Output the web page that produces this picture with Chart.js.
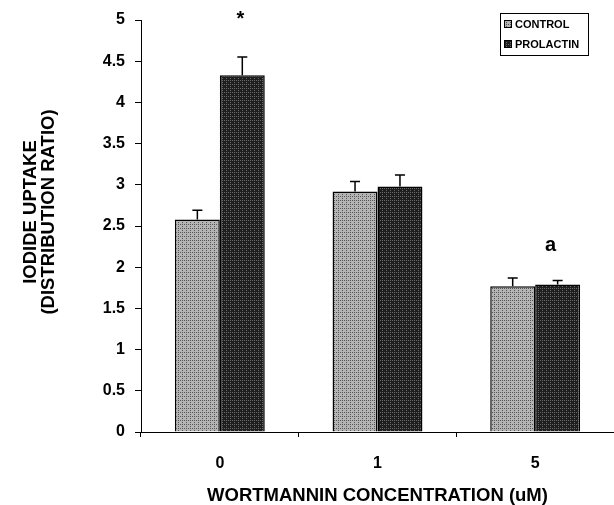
<!DOCTYPE html>
<html>
<head>
<meta charset="utf-8">
<script src="https://cdn.jsdelivr.net/npm/chart.js@4/dist/chart.umd.min.js"></script>
<style>
  html, body { margin: 0; padding: 0; background: #fff; }
  #wrap { width: 614px; height: 505px; position: relative; }
</style>
</head>
<body>
<div id="wrap"><canvas id="chart"></canvas></div>
<script>
const concentrations = ['0', '1', '5'];
const controlValues = [2.58, 2.92, 1.77];
const controlErrors = [0.11, 0.12, 0.10];
const prolactinValues = [4.33, 2.98, 1.79];
const prolactinErrors = [0.22, 0.14, 0.05];
const yTicks = [0, 0.5, 1, 1.5, 2, 2.5, 3, 3.5, 4, 4.5, 5];
const yTitleLines = ['IODIDE UPTAKE', '(DISTRIBUTION RATIO)'];

// significance marks: [dataset, category, value where the mark sits]
const marks = [
  { dataset: 1, index: 0, value: 5.05, text: '*', dx: -2, size: 20 },
  { dataset: 1, index: 2, value: 2.26, text: 'a', dx: -7, size: 20 },
];

const FONT = '"Liberation Sans", Arial, sans-serif';

function makePattern(base, dot) {
  const c = document.createElement('canvas');
  c.width = 4;
  c.height = 4;
  const g = c.getContext('2d');
  g.fillStyle = base;
  g.fillRect(0, 0, 4, 4);
  g.fillStyle = dot;
  g.fillRect(0, 0, 1, 1);
  g.fillRect(2, 2, 1, 1);
  g.fillRect(2, 0, 1, 1);
  return g.createPattern(c, 'repeat');
}

const ctx = document.getElementById('chart').getContext('2d');
const controlFill = makePattern('#b4b4b4', '#555');
const prolactinFill = makePattern('#1e1e1e', '#6a6a6a');

// upward-only error bars with a small cap
const errorBars = {
  id: 'errorBars',
  afterDatasetsDraw(chart) {
    const g = chart.ctx;
    const yScale = chart.scales.y;
    g.save();
    g.strokeStyle = '#000';
    g.lineWidth = 1.5;
    chart.data.datasets.forEach((ds, di) => {
      const meta = chart.getDatasetMeta(di);
      meta.data.forEach((bar, i) => {
        const top = yScale.getPixelForValue(ds.data[i] + ds.errors[i]);
        g.beginPath();
        g.moveTo(bar.x, bar.y);
        g.lineTo(bar.x, top);
        g.moveTo(bar.x - 5, top);
        g.lineTo(bar.x + 5, top);
        g.stroke();
      });
    });
    g.restore();
  },
};

const markLabels = {
  id: 'markLabels',
  afterDatasetsDraw(chart) {
    const g = chart.ctx;
    const yScale = chart.scales.y;
    g.save();
    g.fillStyle = '#000';
    g.textAlign = 'center';
    g.textBaseline = 'middle';
    marks.forEach((m) => {
      const bar = chart.getDatasetMeta(m.dataset).data[m.index];
      g.font = 'bold ' + m.size + 'px ' + FONT;
      const y = yScale.getPixelForValue(m.value) + (m.text === '*' ? 4 : 0);
      g.fillText(m.text, bar.x + m.dx, y);
    });
    g.restore();
  },
};

// two-line rotated y title, a little above the axis middle
const yTitle = {
  id: 'yTitle',
  afterDraw(chart) {
    const g = chart.ctx;
    g.save();
    g.translate(40, 212);
    g.rotate(-Math.PI / 2);
    g.font = 'bold 18.5px ' + FONT;
    g.fillStyle = '#000';
    g.textAlign = 'center';
    g.textBaseline = 'middle';
    yTitleLines.forEach((line, i) => {
      g.fillText(line, 0, (i - 0.5) * 18);
    });
    g.restore();
  },
};

// boxed legend in the top right corner
const boxLegend = {
  id: 'boxLegend',
  afterDraw(chart) {
    const g = chart.ctx;
    const left = 500, top = 13, w = 88, h = 42;
    g.save();
    g.fillStyle = '#fff';
    g.fillRect(left, top, w, h);
    g.strokeStyle = '#000';
    g.lineWidth = 1;
    g.strokeRect(left + 0.5, top + 0.5, w, h);
    g.font = 'bold 11px ' + FONT;
    g.textBaseline = 'middle';
    chart.data.datasets.forEach((ds, i) => {
      const y = top + 11 + i * 20;
      g.fillStyle = ds.backgroundColor;
      g.fillRect(left + 4, y - 4, 8, 8);
      g.strokeStyle = '#000';
      g.strokeRect(left + 4.5, y - 3.5, 7, 7);
      g.fillStyle = '#000';
      g.fillText(ds.label, left + 15, y + 1);
    });
    g.restore();
  },
};

new Chart(ctx, {
  type: 'bar',
  data: {
    labels: concentrations,
    datasets: [
      {
        label: 'CONTROL',
        data: controlValues,
        errors: controlErrors,
        backgroundColor: controlFill,
        borderColor: '#000',
        borderWidth: 1.5,
        borderSkipped: 'bottom',
      },
      {
        label: 'PROLACTIN',
        data: prolactinValues,
        errors: prolactinErrors,
        backgroundColor: prolactinFill,
        borderColor: '#000',
        borderWidth: 1.5,
        borderSkipped: 'bottom',
      },
    ],
  },
  options: {
    responsive: true,
    maintainAspectRatio: false,
    animation: false,
    layout: { padding: { top: 20, right: 0, left: 0, bottom: 0 } },
    categoryPercentage: 0.57,
    barPercentage: 1,
    plugins: {
      legend: { display: false },
      tooltip: { enabled: false },
    },
    scales: {
      x: {
        grid: {
          offset: true,
          drawOnChartArea: false,
          drawTicks: true,
          tickLength: 5,
          color: '#000',
        },
        border: { display: true, color: '#000', width: 1 },
        ticks: {
          color: '#000',
          font: { family: FONT, size: 16, weight: 'bold' },
          padding: 17,
        },
        title: {
          display: true,
          text: 'WORTMANNIN CONCENTRATION (uM)',
          color: '#000',
          font: { family: FONT, size: 18.5, weight: 'bold' },
          padding: { top: 10, bottom: -2 },
        },
        afterFit(scale) { scale.height = 73; },
      },
      y: {
        min: 0,
        max: 5,
        afterBuildTicks(scale) {
          scale.ticks = yTicks.map((v) => ({ value: v }));
        },
        grid: {
          drawOnChartArea: false,
          drawTicks: true,
          tickLength: 6,
          color: '#000',
        },
        border: { display: true, color: '#000', width: 1 },
        ticks: {
          color: '#000',
          font: { family: FONT, size: 16, weight: 'bold' },
          padding: 10,
          callback: (v) => String(v),
        },
        afterFit(scale) { scale.width = 141; },
      },
    },
  },
  plugins: [errorBars, markLabels, yTitle, boxLegend],
});
</script>
</body>
</html>
